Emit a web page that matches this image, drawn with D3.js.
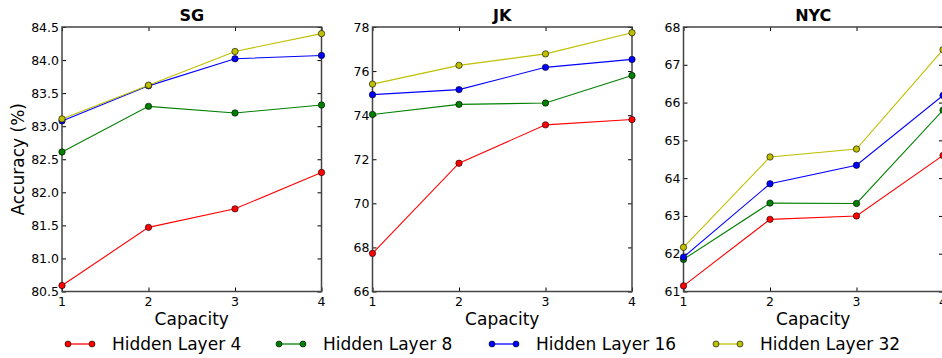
<!DOCTYPE html>
<html>
<head>
<meta charset="utf-8">
<script src="https://cdn.jsdelivr.net/npm/d3@7"></script>
<style>
  body { margin: 0; background: #fff; }
  svg { display: block; font-family: "DejaVu Sans", sans-serif; }
</style>
</head>
<body>
<div id="chartContainer"></div>
<script>
// data
var capacity = [1, 2, 3, 4];
var seriesNames = ["Hidden Layer 4", "Hidden Layer 8", "Hidden Layer 16", "Hidden Layer 32"];
var seriesColors = ["#ff0000", "#008000", "#0000ff", "#bfbf00"];

var sgValues = [
    [80.59, 81.47, 81.75, 82.30],
    [82.61, 83.30, 83.20, 83.32],
    [83.08, 83.61, 84.02, 84.07],
    [83.11, 83.62, 84.13, 84.40]
];
var jkValues = [
    [67.73, 71.82, 73.56, 73.80],
    [74.03, 74.49, 74.55, 75.80],
    [74.93, 75.16, 76.17, 76.53],
    [75.41, 76.26, 76.78, 77.74]
];
var nycValues = [
    [61.15, 62.91, 63.00, 64.60],
    [61.85, 63.34, 63.33, 65.80],
    [61.91, 63.85, 64.34, 66.19],
    [62.17, 64.56, 64.77, 67.40]
];

var sgTicks = [80.5, 81.0, 81.5, 82.0, 82.5, 83.0, 83.5, 84.0, 84.5];
var jkTicks = [66, 68, 70, 72, 74, 76, 78];
var nycTicks = [61, 62, 63, 64, 65, 66, 67, 68];

var panels = [
    {title: "SG", values: sgValues, ticks: sgTicks, fmt: ".1f", left: 62},
    {title: "JK", values: jkValues, ticks: jkTicks, fmt: "d", left: 372.5},
    {title: "NYC", values: nycValues, ticks: nycTicks, fmt: "d", left: 683.5}
];

var width = 942, height = 358;
// note: "top" is taken by window.top, so plotTop / plotBottom
var plotW = 259.5, plotTop = 27, plotBottom = 291.5;
var spine = "#444";

var svg = d3.select("#chartContainer")
    .append("svg")
    .attr("width", width)
    .attr("height", height);

panels.forEach(function(p, pi){
    var x = d3.scaleLinear().domain([1, 4]).range([p.left, p.left + plotW]);
    var y = d3.scaleLinear()
        .domain([p.ticks[0], p.ticks[p.ticks.length - 1]])
        .range([plotBottom, plotTop]);

    var g = svg.append("g");

    // inward ticks on all four sides
    var fmt = d3.format(p.fmt);
    g.append("g")
        .attr("transform", "translate(" + p.left + ",0)")
        .call(d3.axisRight(y).tickValues(p.ticks).tickSize(4).tickFormat(""));
    g.append("g")
        .attr("transform", "translate(" + (p.left + plotW) + ",0)")
        .call(d3.axisLeft(y).tickValues(p.ticks).tickSize(4).tickFormat(""));
    g.append("g")
        .attr("transform", "translate(0," + plotBottom + ")")
        .call(d3.axisTop(x).tickValues(capacity).tickSize(4).tickFormat(""));
    g.append("g")
        .attr("transform", "translate(0," + plotTop + ")")
        .call(d3.axisBottom(x).tickValues(capacity).tickSize(4).tickFormat(""));
    g.selectAll(".domain").remove();
    g.selectAll(".tick line").attr("stroke", "#000").attr("stroke-width", 1);

    // tick labels
    g.selectAll(".ylab")
        .data(p.ticks)
        .enter()
        .append("text")
        .attr("x", p.left - 3)
        .attr("y", function(d){ return y(d); })
        .attr("dy", "0.36em")
        .attr("text-anchor", "end")
        .attr("font-size", 12.5)
        .text(function(d){ return fmt(d); });
    g.selectAll(".xlab")
        .data(capacity)
        .enter()
        .append("text")
        .attr("x", function(d){ return x(d); })
        .attr("y", plotBottom + 14)
        .attr("text-anchor", "middle")
        .attr("font-size", 12.5)
        .text(function(d){ return d; });

    // frame
    g.append("rect")
        .attr("x", p.left)
        .attr("y", plotTop)
        .attr("width", plotW)
        .attr("height", plotBottom - plotTop)
        .attr("fill", "none")
        .attr("stroke", spine)
        .attr("stroke-width", 1.5);

    var line = d3.line()
        .x(function(d, i){ return x(capacity[i]); })
        .y(function(d){ return y(d); });

    p.values.forEach(function(vals, si){
        g.append("path")
            .datum(vals)
            .attr("d", line)
            .attr("fill", "none")
            .attr("stroke", seriesColors[si])
            .attr("stroke-width", 1.1);
        g.selectAll(".pt" + si)
            .data(vals)
            .enter()
            .append("circle")
            .attr("cx", function(d, i){ return x(capacity[i]); })
            .attr("cy", function(d){ return y(d); })
            .attr("r", 3.2)
            .attr("fill", seriesColors[si])
            .attr("stroke", "#000")
            .attr("stroke-width", 0.6);
    });

    g.append("text")
        .attr("x", p.left + plotW / 2)
        .attr("y", plotTop - 6)
        .attr("text-anchor", "middle")
        .attr("font-size", 16)
        .attr("font-weight", "bold")
        .text(p.title);

    g.append("text")
        .attr("x", p.left + plotW / 2)
        .attr("y", 325)
        .attr("text-anchor", "middle")
        .attr("font-size", 17)
        .text("Capacity");

    if (pi === 0) {
        g.append("text")
            .attr("transform", "translate(24," + ((plotTop + plotBottom) / 2) + ") rotate(-90)")
            .attr("text-anchor", "middle")
            .attr("font-size", 17)
            .text("Accuracy (%)");
    }
});

// legend along the bottom
var legendX = [68, 279, 492, 716];
var legendY = 344;
var legend = svg.append("g");
seriesNames.forEach(function(name, i){
    var lx = legendX[i];
    legend.append("line")
        .attr("x1", lx).attr("x2", lx + 24)
        .attr("y1", legendY).attr("y2", legendY)
        .attr("stroke", seriesColors[i])
        .attr("stroke-width", 1.3);
    [lx, lx + 24].forEach(function(cx){
        legend.append("circle")
            .attr("cx", cx).attr("cy", legendY)
            .attr("r", 3)
            .attr("fill", seriesColors[i])
            .attr("stroke", "#000")
            .attr("stroke-width", 0.6);
    });
    legend.append("text")
        .attr("x", lx + 44)
        .attr("y", legendY)
        .attr("dy", "0.35em")
        .attr("font-size", 17)
        .text(name);
});
</script>
</body>
</html>
